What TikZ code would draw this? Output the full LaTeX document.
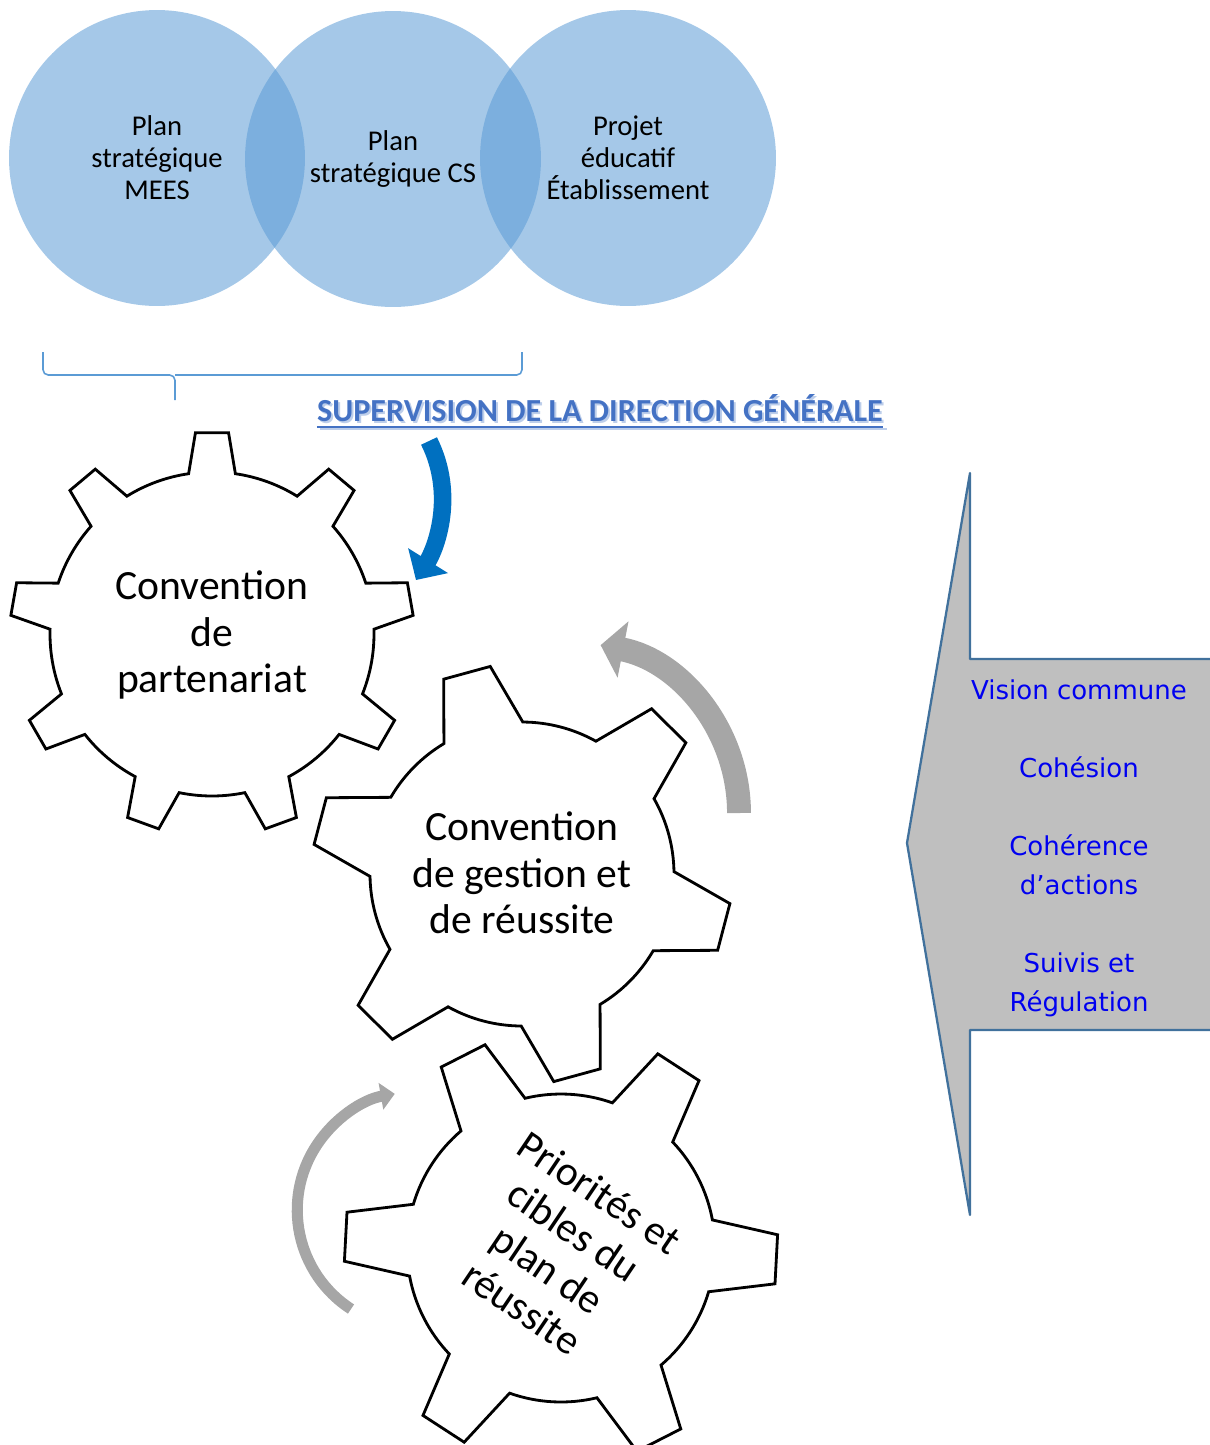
\documentclass[tikz,border=0pt]{standalone}
\usepackage{fontspec}
\setmainfont{Carlito}
\newfontfamily\axesfont{DejaVu Sans}
\usetikzlibrary{arrows.meta}

\definecolor{circblue}{RGB}{91,155,213}
\definecolor{titleblue}{RGB}{68,114,196}
\definecolor{arrowblue}{RGB}{0,112,192}
\definecolor{arcgray}{RGB}{166,166,166}
\definecolor{boxgray}{RGB}{191,191,191}
\definecolor{boxline}{RGB}{65,113,156}
\definecolor{axesblue}{RGB}{0,0,240}

% teeth, root radius, tip radius, root half-angle, tip half-angle, first tooth
\newcommand{\drawgear}[6]{%
  \draw[gear] (#6-#4:#2)
    \foreach \k in {1,...,#1}{
      -- ({#6+(\k-1)*360/#1-#5}:#3) -- ({#6+(\k-1)*360/#1+#5}:#3)
      -- ({#6+(\k-1)*360/#1+#4}:#2)
      arc[start angle={#6+(\k-1)*360/#1+#4}, end angle={#6+\k*360/#1-#4}, radius=#2]
    } -- cycle;}

\begin{document}
\begin{tikzpicture}[x=0.02cm,y=-0.02cm,
  plan/.style={circle, minimum size=5.92cm, inner sep=0pt, fill=circblue,
    fill opacity=.55, text opacity=1, align=center,
    font=\fontsize{16.3}{18.2}\selectfont},
  bracket/.style={draw=circblue, line width=0.9pt, rounded corners=3pt},
  suptext/.style={anchor=base, inner sep=0pt, text=titleblue,
    font=\fontsize{18.3}{22}\selectfont\bfseries},
  gear/.style={draw=black, line width=1.6pt, fill=white},
  geartxt/.style={align=center, font=\fontsize{23.7}{26.4}\selectfont},
  axes/.style={align=center, text=axesblue,
    font=\axesfont\fontsize{14.8}{22.2}\selectfont}]
\useasboundingbox (0,0) rectangle (1210,1445);

% les trois plans
\node[plan] (mees)  at (157,158) {Plan\\stratégique\\MEES};
\node[plan] (cs)    at (393,159) {Plan\\stratégique CS};
\node[plan] (ecole) at (628,158) {Projet\\éducatif\\Établissement};

% accolade
\draw[bracket] (43,352) |- (175,375) -- (175,400);
\draw[bracket] (522,352) |- (175,375);

% supervision
\node[suptext, text=titleblue!35] at (602,423) {SUPERVISION DE LA DIRECTION GÉNÉRALE};
\node[suptext] (superv) at (600,421) {SUPERVISION DE LA DIRECTION GÉNÉRALE};
\draw[titleblue!35, line width=1.5pt] ([shift={(2pt,-4.5pt)}]superv.base west) -- ([shift={(2pt,-4.5pt)}]superv.base east);
\draw[titleblue, line width=1.5pt] ([yshift=-3.5pt]superv.base west) -- ([yshift=-3.5pt]superv.base east);

\coordinate (supA) at (429,441);
\coordinate (supB) at (416,580);
\draw[arrowblue, line width=10pt, -{Triangle[width=26pt,length=13pt]}] (supA) .. controls (456,495) and (436,548) .. (supB);

% engrenages
\coordinate (cpart) at (212,634);
\coordinate (cgest) at (522,874);
\coordinate (cprio) at (561,1248);
\begin{scope}[shift={(cpart)}]
\drawgear{9}{162}{202}{8.3}{4.7}{-90}
\end{scope}
\begin{scope}[shift={(cgest)}]
\drawgear{6}{152}{210}{15.6}{6.6}{-105.3}
\end{scope}
\begin{scope}[shift={(cprio)}]
\drawgear{6}{154}{217}{13.5}{6.5}{3}
\end{scope}

\node[geartxt] (part) at (212,635) {Convention\\de\\partenariat};
\node[geartxt] (gest) at (522,873) {Convention\\de gestion et\\de réussite};
\node[geartxt, rotate=-34] (prio) at (561,1250) {Priorités et\\cibles du\\plan de\\réussite};

% fleches grises
\coordinate (loopA) at (739,813);
\draw[draw=arcgray, line width=13.6pt, -{Triangle[width=32pt,length=13pt]}] (loopA) arc[start angle=0, end angle=-79, radius=171];
\coordinate (loopB) at (351,1309);
\draw[draw=arcgray, line width=6.3pt, -{Triangle[width=15pt,length=8pt]}] (loopB) arc[start angle=123, end angle=260, radius=118];

% fleche de droite
\fill[boxgray] (1210,659) -- (970,659) -- (970,473) -- (907,843) -- (970,1215) -- (970,1030) -- (1210,1030) -- cycle;
\draw[boxline, line width=1.3pt, line join=round] (1210,659) -- (970,659) -- (970,473) -- (907,843) -- (970,1215) -- (970,1030) -- (1210,1030);
\node[axes] (valeurs) at (1079,848) {Vision commune\\[22.2pt]Cohésion\\[22.2pt]Cohérence\\d’actions\\[22.2pt]Suivis et\\Régulation};
\end{tikzpicture}
\end{document}
